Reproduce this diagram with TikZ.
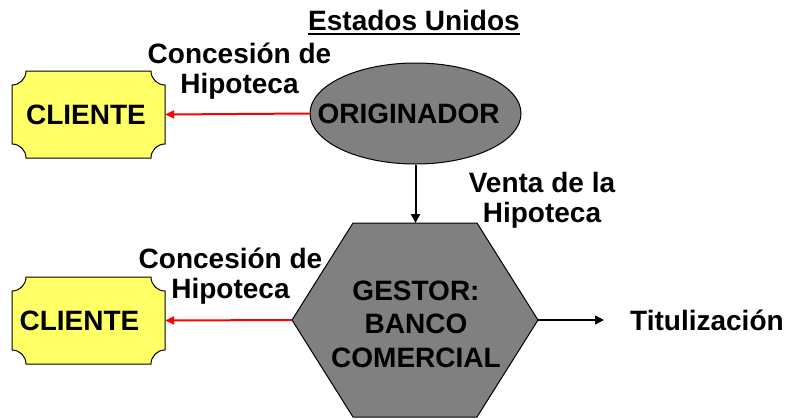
\documentclass[tikz,border=0pt]{standalone}
\usepackage{fontspec}
\setmainfont{Liberation Sans}
\usetikzlibrary{shapes.geometric,arrows.meta}
\definecolor{cyellow}{RGB}{255,255,102}
\definecolor{cgray}{RGB}{128,128,128}
\definecolor{cred}{RGB}{255,0,0}
\tikzset{
  bigfont/.style={font=\fontsize{28}{30}\selectfont\bfseries},
  plaque/.style={draw=black, line width=1pt, fill=cyellow},
  clientebox/.style={bigfont, minimum width=153pt, minimum height=87pt, inner sep=0pt},
  ell/.style={ellipse, draw=black, line width=1pt, fill=cgray, minimum width=211pt, minimum height=101pt, inner sep=0pt, bigfont},
  hexa/.style={draw=black, line width=1pt, fill=cgray},
  lbl/.style={bigfont, align=center, inner sep=0pt},
  blkarrow/.style={draw=black, line width=2pt, -{Triangle[length=9pt,width=9pt]}},
  redarrow/.style={draw=cred, line width=2pt, -{Triangle[length=9pt,width=8pt]}},
}
\newcommand\plaquepath[5]{%
 \draw[plaque] ({#1+#5},#2) -- ({#3-#5},#2) arc[start angle=180,end angle=90,radius=#5]
   -- (#3,{#4-#5}) arc[start angle=270,end angle=180,radius=#5]
   -- ({#1+#5},#4) arc[start angle=0,end angle=-90,radius=#5]
   -- (#1,{#2+#5}) arc[start angle=90,end angle=0,radius=#5] -- cycle;}
\begin{document}
\begin{tikzpicture}[x=1pt,y=-1pt]
\useasboundingbox (0,0) rectangle (789,418);
% title
\node[bigfont, inner sep=0pt, anchor=base] (title) at (414,30) {Estados Unidos};
\draw[line width=2pt] ([yshift=-3.5pt]title.base west) -- ([yshift=-3.5pt]title.base east);
% clientes
\plaquepath{12}{71}{165}{158}{14}
\node[clientebox] (c1) at (88.5,114.5) {CLIENTE\hspace*{5pt}};
\plaquepath{12}{277}{165}{364}{14}
\node[clientebox] (c2) at (88.5,320.5) {\raisebox{-3pt}{CLIENTE}\hspace*{18pt}};
% originador
\node[ell] (orig) at (415.5,113.5) {\makebox[0pt]{ORIGINADOR\hspace*{14pt}}};
% hexagon
\coordinate (h1) at (353,223);
\coordinate (h2) at (477,223);
\coordinate (h3) at (538,320);
\coordinate (h4) at (477,417);
\coordinate (h5) at (353,417);
\coordinate (h6) at (292,320);
\coordinate (htop) at (415.5,223);
\draw[hexa] (h1) -- (h2) -- (h3) -- (h4) -- (h5) -- (h6) -- cycle;
\node[align=center, inner sep=0pt, anchor=base, font=\fontsize{28}{33.5}\selectfont\bfseries] (gestor) at (416,367) {GESTOR:\\BANCO\\COMERCIAL};
% arrows
\draw[blkarrow] (orig.south) -- (htop);
\draw[redarrow] (orig.west) -- (c1.east);
\draw[redarrow] (h6) -- (c2.east);
\coordinate (tend) at (604,320);
\draw[blkarrow, line width=1.5pt] (h3) -- (tend);
% labels
\node[lbl, anchor=base] (l1) at (239.5,93) {Concesión de\\Hipoteca};
\node[lbl, anchor=base] (l2) at (230.5,298) {Concesión de\\Hipoteca};
\node[lbl, anchor=base] (l3) at (542,222) {Venta de la\\Hipoteca};
\node[bigfont, inner sep=0pt, anchor=base west] (titul) at (630,330) {Titulización};
\end{tikzpicture}
\end{document}
